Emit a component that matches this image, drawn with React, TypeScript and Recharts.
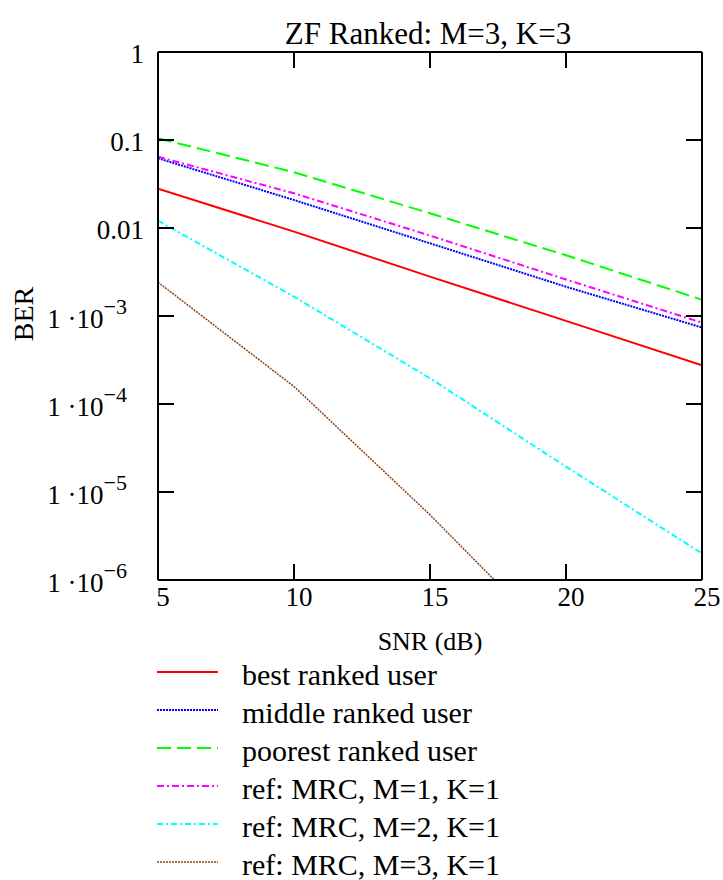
import { LineChart, Line, XAxis, YAxis } from 'recharts';

// ─── Data ────────────────────────────────────────────────────────────────────
const SNR_DB = [5, 10, 15, 20, 25];
const BEST_RANKED = [0.028, 0.0091, 0.0028, 0.00088, 0.000275];
const MIDDLE_RANKED = [0.062, 0.0208, 0.0067, 0.00215, 0.00074];
const POOREST_RANKED = [0.1045, 0.043, 0.0147, 0.0049, 0.00153];
const MRC_M1 = [0.0645, 0.0248, 0.0082, 0.0026, 0.00084];
const MRC_M2 = [0.0121, 0.00166, 0.000196, 0.0000194, 0.000002];
const MRC_M3 = [0.00242, 0.000158, 0.0000055, 0.00000015, 0.0000000048];

const X_TICKS = [5, 10, 15, 20, 25];
const Y_TICKS = [1e-6, 1e-5, 1e-4, 1e-3, 0.01, 0.1, 1];

const SERIES_NAMES = [
  'best ranked user',
  'middle ranked user',
  'poorest ranked user',
  'ref: MRC, M=1, K=1',
  'ref: MRC, M=2, K=1',
  'ref: MRC, M=3, K=1',
];
const SERIES_VALUES = [BEST_RANKED, MIDDLE_RANKED, POOREST_RANKED, MRC_M1, MRC_M2, MRC_M3];

// styles kept apart from the values
const SERIES_STYLE = [
  { color: '#ff0000', dash: undefined, width: 2 },
  { color: '#0000ff', dash: '2 1', width: 2 },
  { color: '#00ff00', dash: '14 6', width: 2 },
  { color: '#ff00ff', dash: '7 3 2 3', width: 2 },
  { color: '#00ffff', dash: '6 3 2 3', width: 2 },
  { color: '#8b4513', dash: '2 1', width: 1.5 },
];

const data = SNR_DB.map((snr, i) => {
  const row: Record<string, number> = { snr };
  SERIES_VALUES.forEach((vals, s) => { row[`s${s}`] = vals[i]; });
  return row;
});

const FONT = 'Liberation Serif, Times New Roman, serif';
const frame = { stroke: '#000', strokeWidth: 2 };

// ─── Tick renderers ──────────────────────────────────────────────────────────
const XTick = ({ x, y, payload }: { x?: number; y?: number; payload?: { value: number } }) => (
  <text x={(x ?? 0) + 5} y={y} textAnchor="middle" fontSize={27} fontFamily={FONT} fill="#000">
    {payload?.value}
  </text>
);

const YTick = ({ x, y, payload }: { x?: number; y?: number; payload?: { value: number } }) => {
  const v = payload?.value ?? 1;
  const e = Math.round(Math.log10(v));
  const px = x ?? 0;
  const py = y ?? 0;
  if (e >= -2) {
    return (
      <text x={px} y={py + 11} textAnchor="end" fontSize={27} fontFamily={FONT} fill="#000">
        {e === 0 ? '1' : v.toFixed(-e)}
      </text>
    );
  }
  return (
    <text x={px - 17} y={py + 12} textAnchor="end" fontSize={27} fontFamily={FONT} fill="#000">
      1 ·10<tspan dy={-14} fontSize={22}>{'\u2212'}{-e}</tspan>
    </text>
  );
};

const NoTick = () => <g />;

// ─── Chart ───────────────────────────────────────────────────────────────────
export default function App() {
  return (
    <div style={{ position: 'relative', width: 723, height: 880, overflow: 'hidden', fontFamily: FONT, background: '#fff' }}>
      <style>{'html,body{margin:0;padding:0;overflow:hidden}.recharts-surface{overflow:visible}'}</style>
      <LineChart width={723} height={668} data={data} margin={{ top: 51, right: 20, bottom: 0, left: 0 }}>
        <XAxis
          xAxisId="b" dataKey="snr" type="number" domain={[5, 25]} ticks={X_TICKS} interval={0}
          height={88} tickSize={-16} tickMargin={42} axisLine={frame} tickLine={frame} tick={<XTick />}
          allowDataOverflow
        />
        <XAxis
          xAxisId="t" orientation="top" dataKey="snr" type="number" domain={[5, 25]} ticks={X_TICKS} interval={0}
          height={1} tickSize={-16} axisLine={frame} tickLine={frame} tick={<NoTick />}
        />
        <YAxis
          yAxisId="l" type="number" scale="log" domain={[1e-6, 1]} ticks={Y_TICKS} interval={0}
          width={158} tickSize={-16} tickMargin={30} axisLine={frame} tickLine={frame} tick={<YTick />}
          allowDataOverflow
        />
        <YAxis
          yAxisId="r" orientation="right" type="number" scale="log" domain={[1e-6, 1]} ticks={Y_TICKS} interval={0}
          width={1} tickSize={-16} axisLine={frame} tickLine={frame} tick={<NoTick />}
          allowDataOverflow
        />
        {SERIES_NAMES.map((name, s) => (
          <Line
            key={name}
            xAxisId="b"
            yAxisId="l"
            type="linear"
            dataKey={`s${s}`}
            name={name}
            stroke={SERIES_STYLE[s].color}
            strokeWidth={SERIES_STYLE[s].width}
            strokeDasharray={SERIES_STYLE[s].dash}
            dot={false}
            activeDot={false}
            isAnimationActive={false}
          />
        ))}
      </LineChart>

      {/* title, axis labels and legend */}
      <svg
        width={723} height={880}
        style={{ position: 'absolute', left: 0, top: 0, pointerEvents: 'none' }}
        fontFamily={FONT}
      >
        <text x={428} y={44} textAnchor="middle" fontSize={31} fill="#000">ZF Ranked: M=3, K=3</text>
        <text transform="translate(33,314) rotate(-90)" textAnchor="middle" fontSize={28} fill="#000">BER</text>
        <text x={430} y={650} textAnchor="middle" fontSize={26} fill="#000">SNR (dB)</text>
        {SERIES_NAMES.map((name, s) => {
          const y = 672 + s * 38;
          return (
            <g key={name}>
              <line
                x1={157} x2={218} y1={y} y2={y}
                stroke={SERIES_STYLE[s].color}
                strokeWidth={SERIES_STYLE[s].width}
                strokeDasharray={SERIES_STYLE[s].dash}
              />
              <text x={242} y={y + 13} fontSize={30} fill="#000">{name}</text>
            </g>
          );
        })}
      </svg>
    </div>
  );
}
